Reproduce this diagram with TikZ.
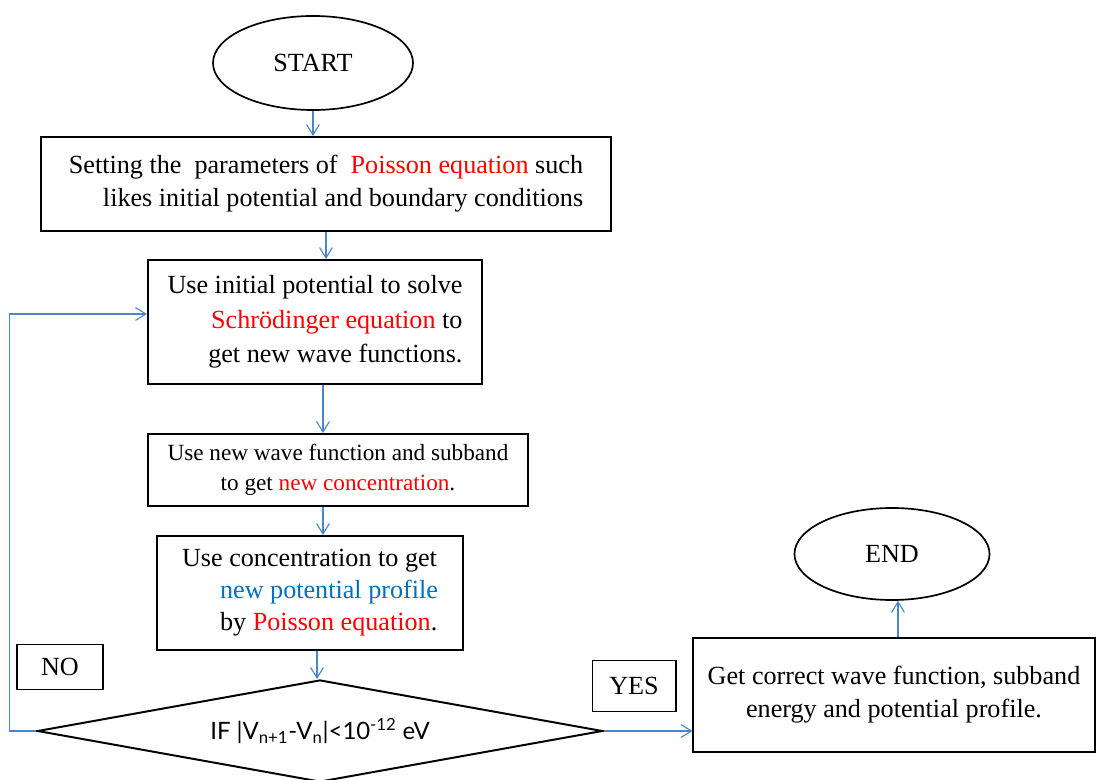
\documentclass[tikz,border=0pt]{standalone}
\usepackage{fontspec}
\setmainfont{Liberation Serif}
\newfontfamily\condfont{Lato}
\usetikzlibrary{shapes.geometric, arrows.meta, positioning, calc}

\definecolor{linkblue}{RGB}{74,134,200}
\definecolor{eqred}{RGB}{255,0,0}
\definecolor{eqblue}{RGB}{0,112,192}

\begin{document}
\begin{tikzpicture}[
    x=0.025cm, y=-0.025cm,
    font=\fontsize{18.6}{23.5}\selectfont,
    box/.style={draw, line width=1.4pt, minimum width=#1, inner sep=4pt},
    terminal/.style={ellipse, draw, line width=1.2pt, minimum width=5cm, minimum height=2.35cm},
    decision/.style={diamond, draw, line width=1.4pt, aspect=5.5, inner sep=0pt,
        minimum width=14.125cm, minimum height=2.55cm, font=\condfont\fontsize{17}{20}\selectfont},
    tag/.style={draw, line width=1.4pt, minimum height=1.2cm, inner sep=6pt},
    arrow/.style={-{Straight Barb[length=2.6mm, width=3.2mm]}, linkblue, line width=0.8pt}
]
\useasboundingbox (0,0) rectangle (1098,780);

\node[terminal] (start) at (313,63) {START};
\node[box=14.225cm, minimum height=2.35cm, align=right] (param) at (326,184)
    {Setting the\ \ parameters of\ \ \textcolor{eqred}{Poisson equation} such\\
     likes initial potential and boundary conditions};
\node[box=8.35cm, minimum height=3.1cm, align=right, font=\fontsize{18.6}{24.5}\selectfont] (schro) at (315,322)
    {Use initial potential to solve\\
     \textcolor{eqred}{Schr\"odinger equation} to\\
     get new wave functions.};
\node[box=9.5cm, minimum height=1.8cm, align=center, font=\fontsize{16.5}{21}\selectfont] (conc) at (338,470)
    {Use new wave function and subband\\
     to get \textcolor{eqred}{new concentration}.};
\node[box=7.625cm, minimum height=2.85cm, align=left, font=\fontsize{18.6}{22.8}\selectfont] (pot) at (310,593)
    {Use concentration to get\\
     \hspace*{0.95cm}\textcolor{eqblue}{new potential profile}\\
     \hspace*{0.95cm}by \textcolor{eqred}{Poisson equation}.};
\node[decision] (check) at (320,731)
    {IF |V\textsubscript{n+1}-V\textsubscript{n}|<10\textsuperscript{-12} eV};
\node[tag, minimum width=2.15cm, minimum height=1.125cm] (no) at (60,667) {NO};
\node[tag, minimum width=2.075cm, minimum height=1.275cm] (yes) at (634,686) {YES};
\node[box=10.025cm, minimum height=2.85cm, align=center] (result) at (894,695)
    {Get correct wave function, subband\\
     energy and potential profile.};
\node[terminal, minimum width=4.875cm, minimum height=2.3cm] (end) at (892,554) {END};

% main flow
\draw[arrow] (start.south) -- (start.south |- param.north);
\draw[arrow] (param.south) -- (param.south |- schro.north);
\draw[arrow] ([xshift=0.2cm]schro.south) -- ([xshift=0.2cm]schro.south |- conc.north);
\draw[arrow] ([xshift=-0.375cm]conc.south) -- ([xshift=-0.375cm]conc.south |- pot.north);
\draw[arrow] ([xshift=0.175cm]pot.south) -- ([xshift=0.175cm]pot.south |- check.north);
% converged
\draw[arrow] (check.east) -- (check.east -| result.west);
\draw[arrow] ([xshift=0.1cm]result.north) -- ([xshift=0.1cm]result.north |- end.south);
% not converged, loop back
\draw[arrow] (check.west) -- ++(-27,0) |- ([yshift=0.2cm]schro.west);
\end{tikzpicture}
\end{document}
